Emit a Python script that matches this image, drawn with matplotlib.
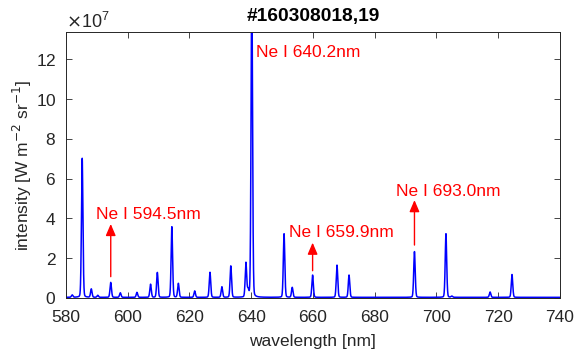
import numpy as np
import matplotlib
matplotlib.use("Agg")
import matplotlib.pyplot as plt
from matplotlib.ticker import ScalarFormatter

plt.rcParams['font.family'] = ['Liberation Sans', 'DejaVu Sans']

# Emission line centres [nm] and peak intensities [x1e7 W m^-2 sr^-1]
line_wl = [582.0, 585.25, 588.2, 590.3, 594.5, 597.6, 603.0, 607.4, 609.6, 614.3,
           616.4, 621.7, 626.65, 630.5, 633.4, 638.3, 639.0, 640.2, 650.65, 653.3,
           659.9, 667.8, 671.7, 692.9, 703.1, 705.0, 717.4, 724.5]
line_int = [0.12, 7.0, 0.42, 0.1, 0.75, 0.23, 0.25, 0.66, 1.25, 3.55,
            0.70, 0.32, 1.26, 0.53, 1.58, 1.72, 0.35, 16.0, 3.2, 0.5,
            1.12, 1.62, 1.12, 2.3, 3.2, 0.06, 0.27, 1.15]
baseline = 0.03

# Annotations: label, line wavelength, arrow start, arrow end, text x, text y (x1e7)
ann_labels = ['Ne I 594.5nm', 'Ne I 659.9nm', 'Ne I 693.0nm']
ann_x = [594.5, 659.9, 692.9]
ann_y0 = [1.07, 1.37, 2.66]
ann_y1 = [3.72, 2.78, 4.92]
ann_tx = [589.6, 652.2, 686.8]
ann_ty = [3.97, 3.07, 5.13]
top_label = 'Ne I 640.2nm'
top_tx, top_ty = 641.6, 12.1

xticks = [580, 600, 620, 640, 660, 680, 700, 720, 740]
yticks = [0, 2, 4, 6, 8, 10, 12]

# build spectrum from line list (pseudo-Voigt profile per line)
wl = np.linspace(580, 740, 8001)
spec = np.full_like(wl, baseline)
sig = 0.25
gam = 0.2
for c, h in zip(line_wl, line_int):
    g = np.exp(-0.5 * ((wl - c) / sig) ** 2)
    l = 1.0 / (1.0 + ((wl - c) / gam) ** 2)
    spec += h * (0.8 * g + 0.2 * l)
spec *= 1e7


class Fixed7(ScalarFormatter):
    def _set_order_of_magnitude(self):
        self.orderOfMagnitude = 7


fig = plt.figure(figsize=(5.85, 3.53), dpi=100)
ax = fig.add_axes([0.1128, 0.156, 0.957 - 0.1128, 0.909 - 0.156])
ax.plot(wl, spec, color='#0000ff', lw=1.1)
ax.set_xlim(580, 740)
ax.set_ylim(0, 13.37e7)
ax.set_xticks(xticks)
ax.set_yticks([v * 1e7 for v in yticks])
fmt = Fixed7(useMathText=True)
ax.yaxis.set_major_formatter(fmt)
ax.yaxis.get_offset_text().set_fontsize(13)
ax.yaxis.get_offset_text().set_color('#262626')

ax.tick_params(direction='in', top=True, right=True, labelsize=12.5,
               colors='#262626', length=4, width=0.6)
ax.tick_params(axis='x', pad=9)
ax.tick_params(axis='y', pad=7)
for s in ax.spines.values():
    s.set_color('#262626')
    s.set_linewidth(0.7)

ax.set_xlabel('wavelength [nm]', fontsize=12.5, color='#262626', labelpad=6)
ax.set_ylabel('intensity [W m$^{-2}$ sr$^{-1}$]', fontsize=12.5, color='#262626', labelpad=1)
ax.set_title('#160308018,19', fontsize=13.8, fontweight='bold', pad=8)

for lab, x, y0, y1, tx, ty in zip(ann_labels, ann_x, ann_y0, ann_y1, ann_tx, ann_ty):
    ax.annotate('', xy=(x, y1 * 1e7), xytext=(x, y0 * 1e7),
                arrowprops=dict(arrowstyle='-|>,head_length=0.7,head_width=0.3',
                                color='red', lw=1.0, shrinkA=0, shrinkB=0))
    ax.text(tx, ty * 1e7, lab, color='red', fontsize=12.5, ha='left', va='baseline')
ax.text(top_tx, top_ty * 1e7, top_label, color='red', fontsize=12.5, ha='left', va='baseline')

fig.savefig('out.png', dpi=100)
